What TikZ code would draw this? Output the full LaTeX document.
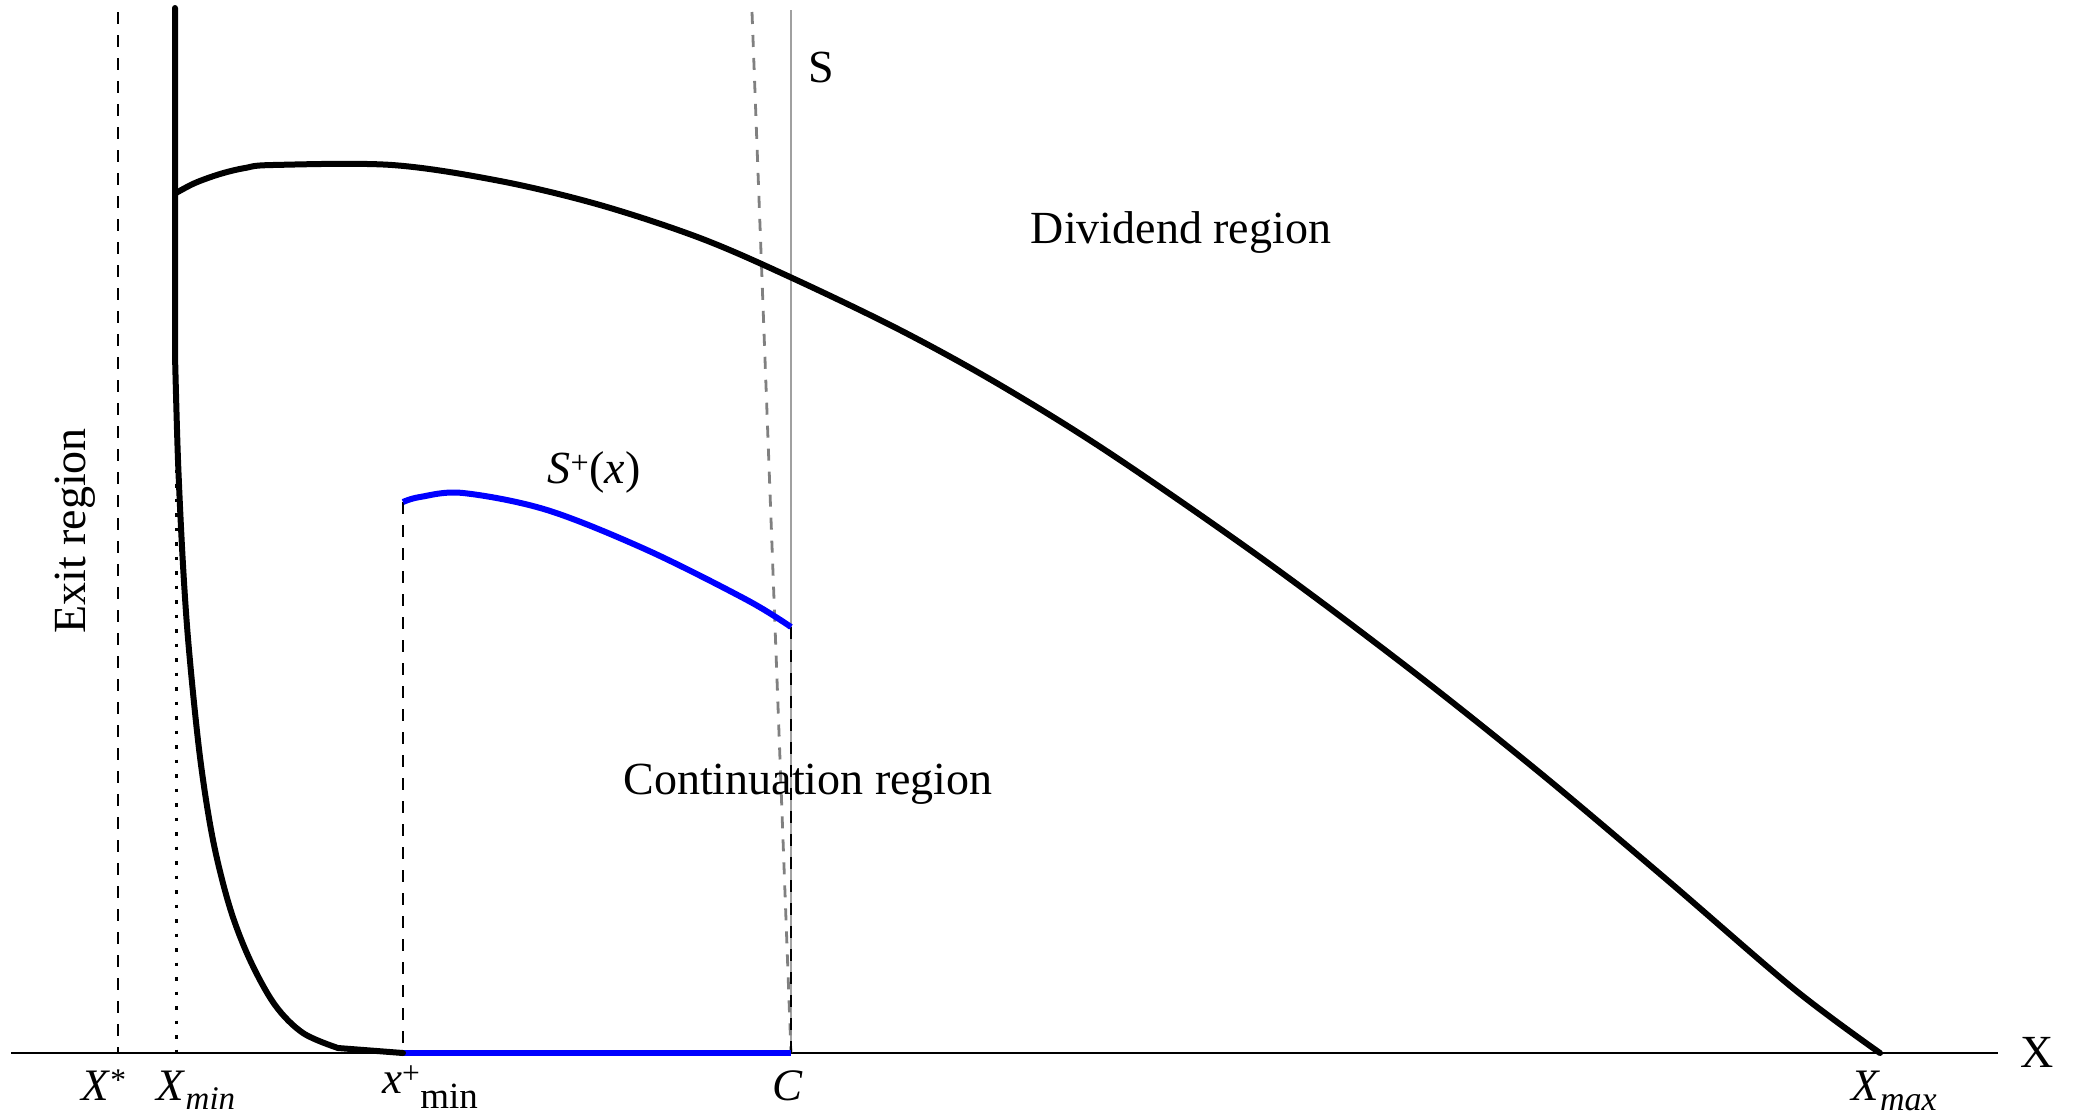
\documentclass[tikz,border=0pt]{standalone}
\usepackage{fontspec}
\setmainfont{Liberation Serif}
\definecolor{sblue}{RGB}{0,0,255}
\definecolor{sgray}{RGB}{160,160,160}
\definecolor{dgray}{RGB}{128,128,128}
\begin{document}
\begin{tikzpicture}[x=1pt,y=-1pt,
  bigcurve/.style={line width=6pt, line join=round, line cap=round},
  bluecurve/.style={line width=6pt, sblue, line join=round},
  dashline/.style={line width=2.8pt, dash pattern=on 12pt off 11pt},
  dotline/.style={line width=3pt, dash pattern=on 3.5pt off 11pt},
  lbl/.style={font=\fontsize{46}{50}\selectfont, inner sep=0pt, anchor=base},
  axlbl/.style={font=\fontsize{45}{48}\selectfont, inner sep=0pt, anchor=base}]
\useasboundingbox (0,0) rectangle (2080,1117);
% key coordinates
\coordinate (axL) at (11,1053);
\coordinate (axR) at (1998,1053);
\coordinate (xs) at (118,1053);
\coordinate (xstop) at (118,12);
\coordinate (xm) at (176,1053);
\coordinate (xmtop) at (176,455);
\coordinate (xp) at (403,1053);
\coordinate (xptop) at (403,502);
\coordinate (cc) at (791,1053);
\coordinate (cctop) at (791,627);
\coordinate (stop) at (791,10);
\coordinate (gtop) at (752,12);
% axis
\draw[line width=2pt] (axL) -- (axR);
% vertical guides
\draw[dashline] (xstop) -- (xs);
\draw[dotline] (xmtop) -- (xm);
\draw[line width=2pt, sgray] (stop) -- (cc);
\draw[line width=2.8pt, dgray, dash pattern=on 12pt off 11pt] (gtop) -- (cc);
\draw[dashline] (xptop) -- (xp);
\draw[dashline] (cctop) -- (cc);
% blue lower segment
\draw[line width=6pt, sblue] (xp) -- (cc);
% exit boundary
\draw[bigcurve] (175,8) -- (175,355) -- plot[smooth, tension=0.55] coordinates {(175,355) (178,460) (183,565) (189,650) (200,757) (213,840) (230,908) (250,960) (275,1005) (303,1033) (338,1048)} -- (xp);
% dividend boundary
\draw[bigcurve] plot[smooth, tension=0.55] coordinates {(176,193) (195,183) (220,174) (245,168) (273,165) (392,165) (500,181) (600,205) (700,238) (790,277) (900,330) (1000,385) (1111,454) (1264,560) (1411,670) (1539,772) (1666,879) (1794,989) (1880,1053)};
% S+(x)
\draw[bluecurve] plot[smooth, tension=0.55] coordinates {(xptop) (420,497) (463,493) (547,510) (647,550) (747,600) (cctop)};
% labels
\node[lbl] (sl) at (821,82) {S};
\node[lbl] (div) at (1181,243) {Dividend region};
\node[lbl] (cont) at (808,794) {Continuation region};
\node[lbl] (splus) at (594,483) {\textit{S}\textsuperscript{+}(\textit{x})};
\node[lbl, rotate=90] (exit) at (85,531) {Exit region};
\node[axlbl] (lxs) at (104,1100) {\textit{X}\textsuperscript{*}};
\node[axlbl] (lxm) at (196,1100) {\textit{X}\raisebox{-9pt}{\fontsize{33}{33}\selectfont\textit{min}}};
\node[axlbl] (lxp) at (430,1093) {\textit{x}\textsuperscript{+}\raisebox{-15pt}{\fontsize{37}{37}\selectfont min}};
\node[axlbl] (lc) at (788,1100) {\textit{C}};
\node[axlbl] (lxmax) at (1894,1100) {\textit{X}\raisebox{-10pt}{\fontsize{34}{34}\selectfont\textit{max}}};
\node[lbl] (lx) at (2037,1067) {X};
\end{tikzpicture}
\end{document}
